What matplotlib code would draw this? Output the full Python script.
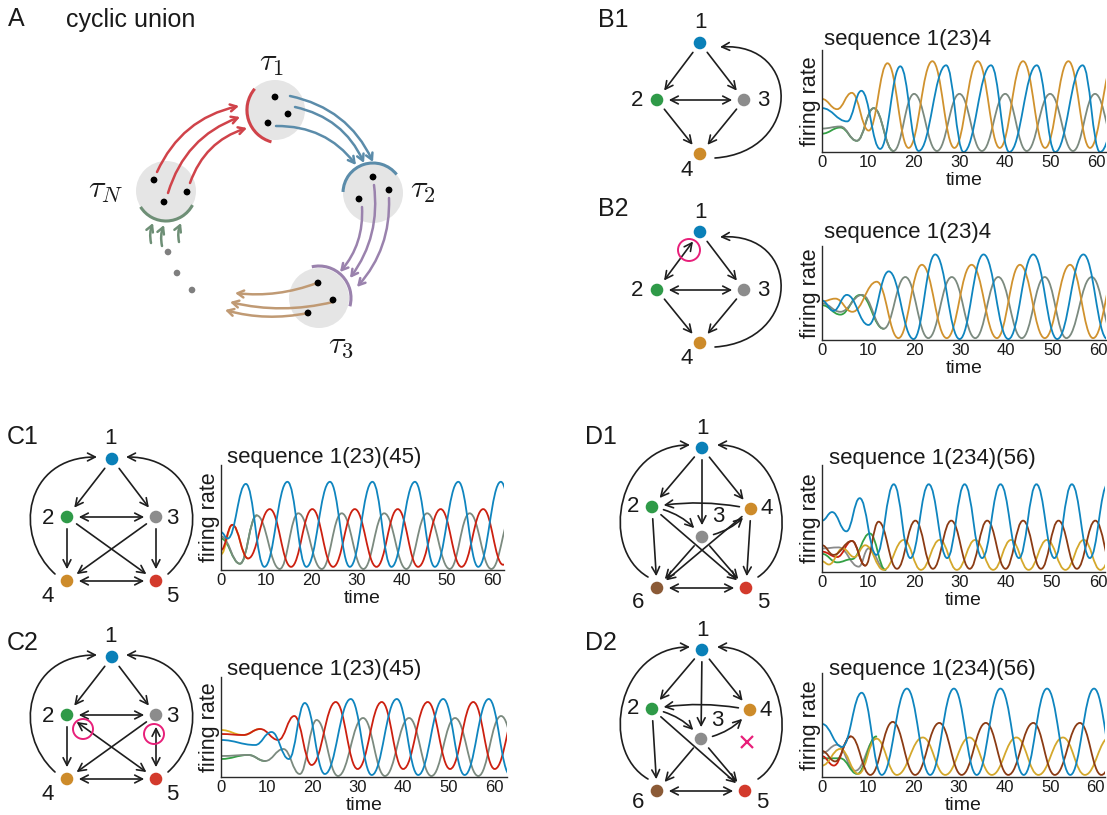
import matplotlib
matplotlib.use("Agg")
import matplotlib.pyplot as plt
from matplotlib.path import Path
from matplotlib.patches import PathPatch, Circle, Arc, FancyArrowPatch

plt.rcParams['font.family'] = ['Liberation Sans', 'DejaVu Sans']
plt.rcParams['mathtext.fontset'] = 'cm'

W, H = 1107, 815

# colours
BLUE = '#0f85bf'
ORANGE = '#d0922e'
GRAY = '#7b8a7f'
GREEN = '#33a044'
RED = '#cc2010'
BROWN = '#8b3b14'
GOLD = '#d4a82c'
YELLOW = '#e0b020'
NODE_COL = {1: '#0a80b8', 2: '#2f9a48', 3: '#8c8c8c', 4: '#cd8b2a', 5: '#d33a2c', 6: '#8b5a36'}

# ---- firing rate traces: peaks / troughs (time, rate 0..1) ----
# B1  sequence 1(23)4
b1_blue_t = [0, 5.5, 8.6, 12.7, 17.1, 21.1, 27.1, 30.9, 36.9, 40.9, 46.9, 50.9, 56.9, 60.7, 66.9]
b1_blue_y = [0.43, 0.30, 0.60, 0.03, 0.84, 0.01, 0.85, 0.0, 0.85, 0.0, 0.85, 0.0, 0.85, 0.0, 0.85]
b1_orange_t = [0, 3.3, 6.5, 10.2, 14.3, 18.9, 24.1, 28.9, 34.0, 38.8, 43.9, 48.7, 53.8, 58.5, 63.8]
b1_orange_y = [0.52, 0.42, 0.58, 0.21, 0.87, 0.04, 0.89, 0.04, 0.89, 0.04, 0.89, 0.04, 0.89, 0.04, 0.89]
b1_gray_t = [0, 4, 7.6, 11.3, 15.6, 20.1, 25.1, 30.0, 34.9, 40.0, 44.7, 49.8, 54.8, 59.6, 64.6]
b1_gray_y = [0.23, 0.25, 0.11, 0.43, 0.01, 0.57, 0.01, 0.57, 0.01, 0.57, 0.01, 0.57, 0.01, 0.57, 0.01]
b1_green_t = [0, 4, 7.6, 11.3, 15.6]
b1_green_y = [0.18, 0.24, 0.11, 0.43, 0.01]

# B2  sequence 1(23)4, perturbed
b2_blue_t = [0, 2.5, 5.4, 10.1, 14.5, 19.9, 24.6, 29.9, 35.1, 40.5, 45.9, 51.1, 56.8, 62.0, 67.5]
b2_blue_y = [0.42, 0.31, 0.48, 0.16, 0.73, 0.01, 0.91, 0.01, 0.91, 0.01, 0.91, 0.01, 0.91, 0.01, 0.91]
b2_orange_t = [0, 2.9, 6.6, 11.9, 16.6, 21.7, 27.1, 32.5, 38.0, 43.0, 48.4, 53.9, 58.9, 64.3]
b2_orange_y = [0.41, 0.44, 0.30, 0.62, 0.02, 0.80, 0.02, 0.80, 0.02, 0.80, 0.02, 0.80, 0.02, 0.80]
b2_gray_t = [0, 4, 8.7, 13.4, 18.1, 23.1, 28.2, 33.3, 38.3, 43.4, 48.4, 53.1, 58.6, 63.6]
b2_gray_y = [0.39, 0.30, 0.48, 0.12, 0.67, 0.02, 0.67, 0.02, 0.67, 0.02, 0.67, 0.02, 0.67, 0.02]
b2_green_t = [0, 4, 8.3, 13.4]
b2_green_y = [0.37, 0.27, 0.48, 0.12]

# C1  sequence 1(23)(45)
c1_blue_t = [0, 1.5, 5.5, 9.6, 14.7, 18.9, 24.1, 28.5, 33.5, 37.7, 42.9, 47.3, 52.5, 56.9, 61.9, 66.3]
c1_blue_y = [0.36, 0.30, 0.82, 0.03, 0.84, 0.03, 0.84, 0.03, 0.84, 0.03, 0.84, 0.03, 0.84, 0.03, 0.84, 0.03]
c1_red_t = [0, 2.5, 6.0, 10.8, 15.5, 20.2, 24.8, 29.6, 34.4, 39.1, 43.6, 48.6, 53.2, 58.0, 62.4, 67.3]
c1_red_y = [0.19, 0.43, 0.11, 0.58, 0.03, 0.58, 0.03, 0.58, 0.03, 0.58, 0.03, 0.58, 0.03, 0.58, 0.05, 0.58]
c1_gray_t = [0, 4.2, 7.9, 13.0, 17.1, 22.3, 26.7, 31.5, 36.1, 41.0, 45.6, 50.6, 55.0, 59.8, 64.5]
c1_gray_y = [0.32, 0.06, 0.52, 0.01, 0.54, 0.01, 0.54, 0.01, 0.54, 0.01, 0.54, 0.01, 0.54, 0.01, 0.54]
c1_orange_t = [0, 2.5, 6.0]
c1_orange_y = [0.15, 0.43, 0.11]
c1_green_t = [0, 4.2, 7.9]
c1_green_y = [0.30, 0.06, 0.52]

# C2  sequence 1(23)(45), perturbed
c2_blue_t = [0, 7.5, 11.1, 14.9, 18.4, 22.8, 28.5, 33.1, 38.6, 43.3, 48.8, 53.5, 58.8, 63.5]
c2_blue_y = [0.37, 0.32, 0.45, 0.18, 0.74, 0.03, 0.78, 0.02, 0.78, 0.02, 0.78, 0.02, 0.78, 0.02]
c2_red_t = [0, 4.9, 8.6, 12.6, 16.1, 19.9, 25.2, 30.0, 35.3, 40.0, 45.4, 50.3, 55.4, 60.1, 65.5]
c2_red_y = [0.43, 0.42, 0.48, 0.37, 0.61, 0.12, 0.75, 0.08, 0.75, 0.08, 0.75, 0.08, 0.75, 0.08, 0.75]
c2_orange_t = [0, 4.9, 8.6]
c2_orange_y = [0.47, 0.42, 0.48]
c2_gray_t = [0, 6, 9.7, 13.7, 17.3, 21.0, 25.7, 31.2, 36.0, 41.3, 46.2, 51.4, 56.5, 61.5, 66.4]
c2_gray_y = [0.21, 0.22, 0.16, 0.28, 0.03, 0.57, 0.01, 0.59, 0.01, 0.59, 0.01, 0.59, 0.01, 0.61, 0.01]
c2_green_t = [0, 6, 9.7]
c2_green_y = [0.18, 0.22, 0.16]

# D1  sequence 1(234)(56)
d1_blue_t = [0, 2.2, 5.3, 8.2, 11.8, 15.6, 19.2, 23.2, 27.2, 31.0, 34.8, 38.8, 42.8, 46.6, 50.5, 54.3, 58.2, 62.1]
d1_blue_y = [0.48, 0.56, 0.38, 0.69, 0.16, 0.82, 0.13, 0.82, 0.13, 0.82, 0.13, 0.82, 0.13, 0.82, 0.13, 0.82, 0.13, 0.82]
d1_brown_t = [0, 2.5, 6.5, 9.4, 12.3, 16.3, 20.3, 24.1, 28.1, 32.1, 35.9, 39.9, 43.7, 47.6, 51.4, 55.4, 59.4, 63.3]
d1_brown_y = [0.25, 0.16, 0.29, 0.06, 0.47, 0.03, 0.48, 0.03, 0.48, 0.03, 0.48, 0.03, 0.48, 0.03, 0.48, 0.03, 0.48, 0.03]
d1_red_t = [0, 3.3, 6.5, 9.4]
d1_red_y = [0.19, 0.14, 0.29, 0.06]
d1_gold_t = [0, 1.5, 4.5, 7.0, 9.4, 13.4, 17.8, 21.5, 25.6, 29.3, 33.3, 37.2, 41.1, 44.9, 48.9, 52.9, 56.9, 60.5, 64.5]
d1_gold_y = [0.10, 0.07, 0.22, 0.14, 0.25, 0.02, 0.30, 0.02, 0.30, 0.02, 0.30, 0.02, 0.30, 0.02, 0.30, 0.02, 0.30, 0.02, 0.30]
d1_green_t = [0, 3.3, 6.5, 10.4, 13.8]
d1_green_y = [0.17, 0.09, 0.12, 0.36, 0.02]
d1_gray_t = [0, 3.6, 8.0, 10.1, 13.8]
d1_gray_y = [0.22, 0.23, 0.05, 0.22, 0.02]

# D2  sequence 1(234)(56), perturbed
d2_blue_t = [0, 4.4, 8.7, 13.1, 18.6, 23.7, 28.9, 33.9, 39.1, 44.2, 49.3, 54.4, 59.6, 64.6]
d2_blue_y = [0.51, 0.29, 0.81, 0.02, 0.85, 0.02, 0.85, 0.02, 0.85, 0.02, 0.85, 0.02, 0.85, 0.02]
d2_brown_t = [0, 2.9, 6.3, 10.6, 15.5, 20.4, 25.7, 30.6, 35.9, 40.8, 46.3, 51.0, 56.5, 61.2, 66.5]
d2_brown_y = [0.25, 0.15, 0.39, 0.02, 0.53, 0.02, 0.52, 0.02, 0.52, 0.02, 0.52, 0.02, 0.52, 0.02, 0.52]
d2_red_t = [0, 2.6, 6.3]
d2_red_y = [0.20, 0.11, 0.39]
d2_gold_t = [0, 4.0, 8.0, 11.9, 16.4, 22.1, 27.0, 32.3, 37.2, 42.6, 47.4, 52.8, 57.6, 63.0]
d2_gold_y = [0.11, 0.27, 0.03, 0.37, 0.02, 0.38, 0.02, 0.38, 0.02, 0.38, 0.02, 0.38, 0.02, 0.38]
d2_gray_t = [0, 3.3, 7.3, 11.9]
d2_gray_y = [0.23, 0.31, 0.06, 0.37]
d2_green_t = [0, 4.0, 7.7, 11.9]
d2_green_y = [0.18, 0.18, 0.03, 0.39]

tick_vals = [0, 10, 20, 30, 40, 50, 60]

fig = plt.figure(figsize=(W / 100, H / 100), dpi=100)

# full-figure canvas in pixel coords for the diagrams
cv = fig.add_axes([0, 0, 1, 1])
cv.set_xlim(0, W)
cv.set_ylim(H, 0)
cv.axis('off')

TXT = '#1a1a1a'
ARROW = '->,head_length=0.55,head_width=0.28'


def label(x, y, s, size, ha='left', va='baseline'):
    cv.text(x, y, s, fontsize=size, ha=ha, va=va, color=TXT)


def wave(ax, t, y, color, z=2):
    # smooth curve through the extrema (horizontal tangent at each one)
    verts = [(t[0], y[0])]
    codes = [Path.MOVETO]
    for i in range(1, len(t)):
        d = (t[i] - t[i - 1]) * 0.42
        verts += [(t[i - 1] + d, y[i - 1]), (t[i] - d, y[i]), (t[i], y[i])]
        codes += [Path.CURVE4] * 3
    ax.add_patch(PathPatch(Path(verts, codes), fill=False, edgecolor=color,
                           lw=1.3, zorder=z, capstyle='round'))


def trace_axes(l, r, top, b, xmax, title, tx, ty, curves):
    ax = fig.add_axes([l / W, 1 - b / H, (r - l) / W, (b - top) / H])
    for t, y, c in curves:
        wave(ax, t, y, c)
    ax.set_xlim(0, xmax)
    ax.set_ylim(0, 1)
    ax.set_xticks(tick_vals)
    ax.set_yticks([])
    ax.tick_params(length=0, pad=2, labelsize=12, colors=TXT)
    for s in ['top', 'right']:
        ax.spines[s].set_visible(False)
    for s in ['left', 'bottom']:
        ax.spines[s].set_color('#2a2a2a')
        ax.spines[s].set_linewidth(1.0)
    ax.set_xlabel('time', fontsize=14, labelpad=1.5, color=TXT)
    ax.set_ylabel('firing rate', fontsize=15.5, labelpad=1, color=TXT)
    ax.patch.set_alpha(0)
    label(tx, ty, title, 16)
    return ax


# ---------------- panel A : cyclic union ----------------
label(8, 26, 'A', 18)
label(66, 27, 'cyclic union', 18)

A_RED, A_BLUE, A_PURP, A_TAN, A_GREEN = '#d0434a', '#5b8caa', '#9a82ad', '#c09a74', '#6e8f76'
for c in [(275, 110), (166, 191), (373, 193), (319, 298)]:
    cv.add_patch(Circle(c, 30, fc='#e5e5e5', ec='none', zorder=1))
for p in [(275, 97), (288, 114), (268, 123), (154, 180), (164, 202), (187, 192),
          (373, 177), (359, 199), (389, 190), (318, 283), (333, 300), (308, 313)]:
    cv.add_patch(Circle(p, 3.4, fc='black', ec='none', zorder=4))
for p in [(168, 252), (177, 273), (192, 290)]:
    cv.add_patch(Circle(p, 3.3, fc='#7f7f7f', ec='none', zorder=4))

cv.add_patch(Arc((280, 110), 66, 66, theta1=105, theta2=220, color=A_RED, lw=2.2, zorder=3))
cv.add_patch(Arc((373, 193), 60, 60, theta1=182, theta2=322, color=A_BLUE, lw=2.2, zorder=3))
cv.add_patch(Arc((319, 298), 64, 64, theta1=257, theta2=375, color=A_PURP, lw=2.2, zorder=3))
cv.add_patch(Arc((166, 191), 60, 60, theta1=28, theta2=148, color=A_GREEN, lw=2.2, zorder=3))


def carrow(p0, p1, rad, color):
    cv.annotate('', xy=p1, xytext=p0,
                arrowprops=dict(arrowstyle='->,head_length=0.45,head_width=0.25', color=color,
                                lw=1.8, shrinkA=0, shrinkB=0,
                                connectionstyle=f'arc3,rad={rad}'), zorder=3)


for p0, p1 in [((157, 172), (239, 106)), ((168, 193), (240, 117)), ((190, 183), (247, 128))]:
    carrow(p0, p1, -0.25, A_RED)
for p0, p1 in [((290, 96), (373, 162)), ((295, 107), (364, 163)), ((276, 126), (356, 165))]:
    carrow(p0, p1, -0.25, A_BLUE)
for p0, p1 in [((362, 207), (340, 272)), ((374, 185), (350, 278)), ((389, 198), (357, 287))]:
    carrow(p0, p1, -0.2, A_PURP)
for p0, p1 in [((317, 283), (235, 293)), ((333, 302), (230, 302)), ((308, 313), (225, 310))]:
    carrow(p0, p1, -0.12, A_TAN)
for p0, p1 in [((151, 243), (153, 223)), ((162, 246), (164, 225)), ((179, 242), (181, 223))]:
    carrow(p0, p1, -0.15, A_GREEN)

label(272, 63, r'$\tau_1$', 23, ha='center', va='center')
label(106, 190, r'$\tau_N$', 23, ha='center', va='center')
label(423, 190, r'$\tau_2$', 23, ha='center', va='center')
label(341, 345, r'$\tau_3$', 23, ha='center', va='center')


# ---------------- graph helpers ----------------
def graph(nodes, labels, edges, arcs):
    for k, p in nodes.items():
        cv.add_patch(Circle(p, 6.3, fc=NODE_COL[k], ec='none', zorder=5))
    for k, p in labels.items():
        label(p[0], p[1], str(k), 16, ha='center', va='center')
    for e in edges:
        a, b = e[0], e[1]
        both = len(e) > 2 and e[2] == 'bi'
        rad = e[2] if len(e) > 2 and e[2] != 'bi' else 0.0
        style = ARROW.replace('->', '<->') if both else ARROW
        cv.annotate('', xy=nodes[b], xytext=nodes[a],
                    arrowprops=dict(arrowstyle=style, color='#1e1e1e', lw=1.2,
                                    shrinkA=8.5, shrinkB=8.5,
                                    connectionstyle=f'arc3,rad={rad}'), zorder=4)
    # long feedback arcs into node 1, as cubic curves
    for p0, c0, c1, p1 in arcs:
        path = Path([p0, c0, c1, p1], [Path.MOVETO, Path.CURVE4, Path.CURVE4, Path.CURVE4])
        cv.add_patch(FancyArrowPatch(path=path, arrowstyle=ARROW, color='#1e1e1e',
                                     lw=1.2, mutation_scale=10, zorder=4))


def pink_ring(p, r):
    cv.add_patch(Circle(p, r, fc='none', ec='#e8207a', lw=1.4, zorder=6))


# ---------------- B ----------------
label(598, 27, 'B1', 18)
graph({1: (700, 43), 2: (657, 100), 3: (744, 100), 4: (700, 154)},
      {1: (700, 22), 2: (637, 101), 3: (763, 101), 4: (687, 170)},
      [(1, 2), (1, 3), (2, 3, 'bi'), (2, 4), (3, 4)],
      [((715, 158), (802, 152), (802, 42), (720, 47))])

label(598, 216, 'B2', 18)
graph({1: (700, 232), 2: (657, 290), 3: (744, 290), 4: (700, 343)},
      {1: (700, 212), 2: (637, 291), 3: (763, 291), 4: (687, 359)},
      [(2, 1, 'bi'), (1, 3), (2, 3, 'bi'), (2, 4), (3, 4)],
      [((715, 347), (802, 341), (802, 232), (720, 237))])
pink_ring((689, 250), 11)

trace_axes(822, 1106, 50, 152, 62, 'sequence 1(23)4', 824, 45,
           [(b1_green_t, b1_green_y, GREEN), (b1_gray_t, b1_gray_y, GRAY),
            (b1_orange_t, b1_orange_y, ORANGE), (b1_blue_t, b1_blue_y, BLUE)])
trace_axes(822, 1106, 246, 340, 61.7, 'sequence 1(23)4', 824, 238,
           [(b2_green_t, b2_green_y, GREEN), (b2_gray_t, b2_gray_y, GRAY),
            (b2_orange_t, b2_orange_y, ORANGE), (b2_blue_t, b2_blue_y, BLUE)])

# ---------------- C ----------------
label(7, 444, 'C1', 18)
graph({1: (112, 459), 2: (67, 517), 3: (156, 517), 4: (67, 581), 5: (156, 581)},
      {1: (110, 439), 2: (48, 519), 3: (172, 519), 4: (48, 597), 5: (172, 597)},
      [(1, 2), (1, 3), (2, 3, 'bi'), (2, 4), (3, 5), (2, 5), (3, 4), (4, 5, 'bi')],
      [((55, 574), (12, 535), (25, 457), (97, 457)),
       ((168, 574), (211, 535), (198, 457), (126, 457))])

label(7, 650, 'C2', 18)
graph({1: (112, 657), 2: (67, 715), 3: (156, 715), 4: (67, 779), 5: (156, 779)},
      {1: (110, 637), 2: (48, 717), 3: (172, 717), 4: (48, 795), 5: (172, 795)},
      [(1, 2), (1, 3), (2, 3, 'bi'), (2, 4), (3, 4), (2, 5, 'bi'), (3, 5, 'bi'), (4, 5, 'bi')],
      [((55, 772), (12, 733), (25, 655), (97, 655)),
       ((168, 772), (211, 733), (198, 655), (126, 655))])
pink_ring((83, 729), 10)
pink_ring((154, 734), 10)

trace_axes(221, 504, 465, 570, 62.6, 'sequence 1(23)(45)', 227, 463,
           [(c1_green_t, c1_green_y, GREEN), (c1_orange_t, c1_orange_y, YELLOW),
            (c1_gray_t, c1_gray_y, GRAY), (c1_red_t, c1_red_y, RED), (c1_blue_t, c1_blue_y, BLUE)])
trace_axes(221, 507, 677, 777, 62.8, 'sequence 1(23)(45)', 227, 675,
           [(c2_green_t, c2_green_y, GREEN), (c2_orange_t, c2_orange_y, YELLOW),
            (c2_gray_t, c2_gray_y, GRAY), (c2_red_t, c2_red_y, RED), (c2_blue_t, c2_blue_y, BLUE)])

# ---------------- D ----------------
label(585, 444, 'D1', 18)
graph({1: (702, 448), 2: (652, 507), 3: (702, 537), 4: (751, 509), 5: (746, 588), 6: (657, 588)},
      {1: (702, 428), 2: (633, 507), 3: (718, 517), 4: (767, 509), 5: (763, 602), 6: (638, 602)},
      [(1, 2), (1, 3), (1, 4), (4, 2, 0.1), (2, 3, -0.2), (3, 4, 0.2), (2, 6), (2, 5),
       (4, 5), (4, 6), (3, 6), (3, 5), (6, 5, 'bi')],
      [((648, 577), (598, 548), (618, 445), (690, 445)),
       ((758, 577), (802, 548), (784, 445), (717, 445))])

label(585, 650, 'D2', 18)
graph({1: (702, 650), 2: (652, 709), 3: (701, 739), 4: (750, 710), 5: (745, 791), 6: (657, 791)},
      {1: (702, 630), 2: (633, 709), 3: (717, 720), 4: (766, 711), 5: (762, 803), 6: (638, 803)},
      [(1, 2), (1, 3), (1, 4), (4, 2, 0.1), (2, 3, -0.2), (3, 4, 0.2), (2, 6), (2, 5),
       (3, 6), (3, 5), (6, 5, 'bi')],
      [((648, 779), (598, 750), (618, 647), (690, 647)),
       ((758, 779), (802, 750), (784, 647), (717, 647))])
cv.plot([747], [742], marker='x', ms=8, mew=1.6, color='#e8207a', zorder=6)

trace_axes(822, 1105, 465, 572, 61.5, 'sequence 1(234)(56)', 829, 464,
           [(d1_gray_t, d1_gray_y, '#8a8a8a'), (d1_green_t, d1_green_y, GREEN),
            (d1_red_t, d1_red_y, RED), (d1_gold_t, d1_gold_y, GOLD),
            (d1_brown_t, d1_brown_y, BROWN), (d1_blue_t, d1_blue_y, BLUE)])
trace_axes(822, 1105, 673, 777, 62, 'sequence 1(234)(56)', 829, 675,
           [(d2_gray_t, d2_gray_y, '#8a8a8a'), (d2_green_t, d2_green_y, GREEN),
            (d2_red_t, d2_red_y, RED), (d2_gold_t, d2_gold_y, GOLD),
            (d2_brown_t, d2_brown_y, BROWN), (d2_blue_t, d2_blue_y, BLUE)])

fig.savefig('out.png', dpi=100)
